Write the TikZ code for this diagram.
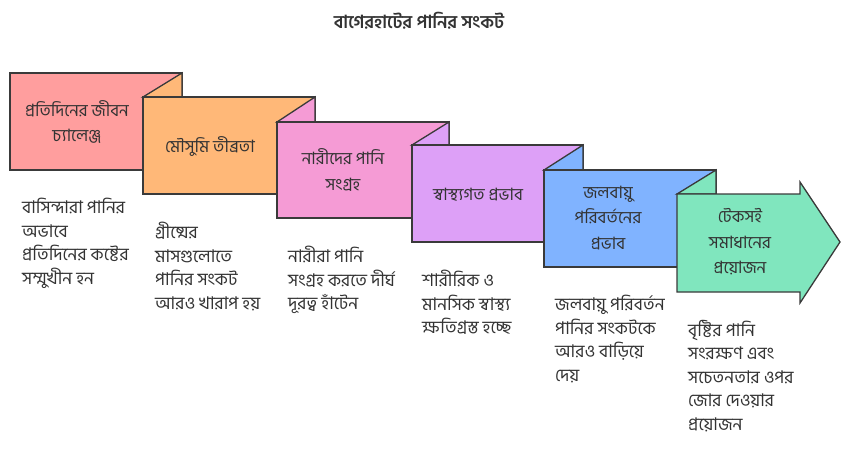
\documentclass[tikz,border=0pt]{standalone}
\usepackage{fontspec}
\usepackage{tikz}
\newfontfamily\bnfont[Script=Bengali]{Hind Siliguri}

\definecolor{edge}{HTML}{3A3A3A}
\definecolor{ink}{HTML}{333333}
\definecolor{dailyfill}{HTML}{FF9E9E}
\definecolor{seasonfill}{HTML}{FFB878}
\definecolor{womenfill}{HTML}{F59BD5}
\definecolor{healthfill}{HTML}{DDA0F7}
\definecolor{climatefill}{HTML}{80B3FF}
\definecolor{solvefill}{HTML}{80E6BE}

\begin{document}
\begin{tikzpicture}[x=1pt, y=-1pt,
    panel/.style={draw=edge, line width=1.3pt, line join=miter},
    label/.style={font=\bnfont\fontsize{17}{25.5}\selectfont, align=center, text=ink},
    note/.style={font=\bnfont\fontsize{17.5}{23.5}\selectfont, align=left, anchor=north west, inner sep=0pt, text=ink}]
    \useasboundingbox (0, 0) rectangle (850, 450);

    \node[font=\bnfont\bfseries\fontsize{18}{20}\selectfont, text=ink] (title) at (419, 21) {বাগেরহাটের পানির সংকট};

    % steps, each one folded over the one before
    \draw[panel, fill=dailyfill] (10, 73) rectangle (182, 170);
    \draw[panel, fill=seasonfill] (143, 97) -- (182, 73) -- (182, 97) -- cycle;
    \draw[panel, fill=seasonfill] (143, 97) rectangle (315, 194);
    \draw[panel, fill=womenfill] (277, 122) -- (315, 97) -- (315, 122) -- cycle;
    \draw[panel, fill=womenfill] (277, 122) rectangle (449, 218);
    \draw[panel, fill=healthfill] (412, 145) -- (449, 122) -- (449, 145) -- cycle;
    \draw[panel, fill=healthfill] (412, 145) rectangle (583, 242);
    \draw[panel, fill=climatefill] (544, 170) -- (583, 145) -- (583, 170) -- cycle;
    \draw[panel, fill=climatefill] (544, 170) rectangle (716, 267);
    \draw[panel, fill=solvefill] (677, 194) -- (716, 170) -- (716, 194) -- cycle;
    \draw[panel, fill=solvefill] 
    (677, 194) -- (800, 194) -- 
    (800, 182) -- (840, 242) -- (800, 303) -- 
    (800, 292) -- (677, 292) -- cycle;

    \node[label] (daily) at (77, 122) {প্রতিদিনের জীবন\\চ্যালেঞ্জ};
    \node[label] (season) at (210, 147) {মৌসুমি তীব্রতা};
    \node[label] (women) at (343, 170) {নারীদের পানি\\সংগ্রহ};
    \node[label] (health) at (478, 195) {স্বাস্থ্যগত প্রভাব};
    \node[label] (climate) at (608, 218) {জলবায়ু\\পরিবর্তনের\\প্রভাব};
    \node[label] (solve) at (740, 242) {টেকসই\\সমাধানের\\প্রয়োজন};

    \node[note] (dailynote) at (22, 198) {বাসিন্দারা পানির\\অভাবে\\প্রতিদিনের কষ্টের\\সম্মুখীন হন};
    \node[note] (seasonnote) at (155, 222) {গ্রীষ্মের\\মাসগুলোতে\\পানির সংকট\\আরও খারাপ হয়};
    \node[note] (womennote) at (288, 246) {নারীরা পানি\\সংগ্রহ করতে দীর্ঘ\\দূরত্ব হাঁটেন};
    \node[note] (healthnote) at (422, 270) {শারীরিক ও\\মানসিক স্বাস্থ্য\\ক্ষতিগ্রস্ত হচ্ছে};
    \node[note] (climatenote) at (555, 295) {জলবায়ু পরিবর্তন\\পানির সংকটকে\\আরও বাড়িয়ে\\দেয়};
    \node[note] (solvenote) at (688, 320) {বৃষ্টির পানি\\সংরক্ষণ এবং\\সচেতনতার ওপর\\জোর দেওয়ার\\প্রয়োজন};
\end{tikzpicture}
\end{document}
